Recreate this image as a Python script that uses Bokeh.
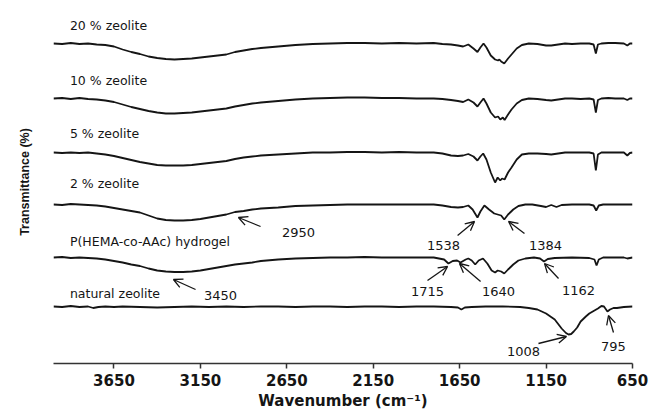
from bokeh.plotting import figure
from bokeh.models import Range1d, FixedTicker, Label, Arrow, OpenHead
from bokeh.embed import file_html
from bokeh.resources import INLINE

# ---------------- data (wavenumber cm-1, transmittance drop from baseline) ----------------
ticks = [3650, 3150, 2650, 2150, 1650, 1150, 650]

zeolite20 = [(4000,0),(3950,0.5),(3900,-0.5),(3850,0.5),(3800,0),(3750,1),(3700,1.5),(3650,3),(3600,6),(3550,8.5),(3500,10.5),(3450,13),(3400,14.5),(3350,15.5),(3300,16),(3250,15.5),(3200,15),(3150,14),(3100,13),(3050,12),(3000,11),(2950,8.5),(2900,7),(2850,5.5),(2800,4.5),(2700,3),(2600,1.5),(2500,0.5),(2400,0),(2300,-0.5),(2200,-0.5),(2100,0),(2000,-0.5),(1900,0),(1800,-0.5),(1750,0.5),(1700,1),(1660,2),(1630,3),(1600,1),(1570,5),(1547,8.5),(1530,4),(1512,0),(1495,4),(1470,12),(1445,16),(1428,17),(1420,16),(1410,18),(1392,20),(1370,15),(1350,11),(1320,5),(1290,1.5),(1250,0),(1200,0.5),(1150,2),(1120,2),(1080,1),(1040,0),(1000,0.5),(950,0),(900,0),(875,1),(862,10),(850,1),(830,0),(790,-0.5),(750,-0.5),(700,0),(680,2),(665,0),(650,0)]

zeolite10 = [(4000,0),(3950,-0.5),(3900,0.5),(3850,-0.5),(3800,0.5),(3750,1),(3700,2),(3650,3.5),(3600,6),(3550,8.5),(3500,10.5),(3450,12.5),(3400,14),(3350,15),(3300,15),(3250,14.5),(3200,14),(3150,13),(3100,12),(3050,11),(3000,10),(2950,8),(2900,6.5),(2850,5),(2800,4),(2700,2.5),(2600,1),(2500,0),(2400,-0.5),(2300,-1),(2200,-1),(2100,-0.5),(2000,-0.5),(1900,0),(1800,0),(1750,0.5),(1700,1.5),(1660,2.5),(1630,3.5),(1600,1),(1570,4),(1547,8),(1530,4),(1512,0),(1495,5),(1470,14),(1445,19),(1428,18),(1415,21),(1400,19),(1390,21.5),(1370,16),(1350,11),(1320,5),(1290,1.5),(1250,0),(1200,0.5),(1150,1.5),(1120,2),(1080,1),(1040,0),(1000,0),(950,0.5),(900,0),(875,1),(862,14),(850,1.5),(830,0),(790,-0.5),(750,0),(700,0),(680,1.5),(665,0),(650,0)]

zeolite5 = [(4000,0),(3950,0.5),(3900,0),(3850,0.5),(3800,0),(3750,1),(3700,2),(3650,3.5),(3600,5.5),(3550,7.5),(3500,9.5),(3450,11),(3400,12.5),(3350,13),(3300,13),(3250,13),(3200,12.5),(3150,11.5),(3100,10.5),(3050,9.5),(3000,8.5),(2950,6.5),(2900,5),(2850,4),(2800,3),(2700,2),(2600,1),(2500,0),(2400,0),(2300,-0.5),(2200,-0.5),(2100,0),(2000,-0.5),(1900,0),(1800,0),(1750,1),(1700,3),(1660,3.5),(1630,3),(1600,1.5),(1570,4),(1547,8),(1530,4),(1514,1),(1495,7),(1470,20),(1445,30),(1430,25),(1415,28),(1405,26),(1390,27),(1370,20),(1350,15),(1320,7),(1290,2),(1250,1),(1200,1),(1150,1.5),(1120,2),(1080,1),(1040,0),(1000,0),(950,0),(900,0),(875,1),(862,18),(850,2),(830,0),(790,0),(750,0),(700,0),(680,3),(665,0.5),(650,0)]

zeolite2 = [(4000,0),(3950,0.5),(3900,-0.5),(3850,0),(3800,0.5),(3750,1),(3700,2),(3650,3.5),(3600,5),(3550,6.5),(3500,8),(3450,11),(3400,14),(3350,15.5),(3300,16),(3250,16),(3200,15.5),(3150,14.5),(3100,13),(3050,11.5),(3000,10),(2950,7.5),(2900,6.5),(2850,5),(2800,4),(2700,3),(2600,1.5),(2500,1),(2400,0.5),(2300,0),(2200,0),(2100,0),(2000,0),(1900,0),(1800,0),(1750,1),(1700,2.5),(1660,3),(1630,2.5),(1600,1),(1575,5),(1547,13),(1530,7),(1507,1),(1480,5),(1450,9),(1430,10),(1410,11),(1392,15),(1370,10),(1340,5),(1310,1.5),(1270,0),(1230,0),(1180,1.5),(1150,2.5),(1120,0.5),(1090,2.5),(1060,0.5),(1000,0),(950,0),(900,0),(875,1),(860,6),(845,1),(820,0),(760,0),(700,0),(650,0)]

hydrogel = [(4000,0),(3950,-0.5),(3900,0.5),(3850,0),(3800,0.5),(3750,1),(3700,2),(3650,3.5),(3600,5),(3550,7),(3500,8.5),(3450,11),(3400,13),(3350,14),(3300,14.5),(3250,14.5),(3200,14),(3150,13),(3100,11.5),(3050,10),(3000,8.5),(2950,7),(2900,6),(2850,5),(2800,3.5),(2700,2),(2600,1),(2500,0.5),(2400,0),(2300,0),(2200,-0.5),(2100,0),(2000,0),(1900,0),(1800,0),(1740,2),(1715,6),(1690,3.5),(1665,3),(1645,5),(1615,2),(1600,1),(1580,3),(1560,7),(1540,3),(1515,1),(1490,6),(1465,13),(1445,15),(1430,13),(1410,14),(1392,16),(1370,12),(1340,7),(1310,3),(1270,1),(1220,0),(1185,1),(1162,4),(1140,1.5),(1100,0.5),(1000,0),(900,0.5),(870,2),(858,8),(845,2),(820,0),(700,0),(680,1),(650,0)]

natural = [(4000,0),(3950,0.5),(3900,-0.5),(3850,0.5),(3800,0),(3770,1.5),(3740,0.5),(3700,0),(3650,0.5),(3600,0),(3500,0.5),(3400,1),(3300,0.5),(3200,0),(3100,0.5),(3000,0),(2900,0.5),(2800,0),(2700,0),(2600,0.5),(2500,0),(2400,0),(2300,0.5),(2200,0),(2100,0),(2000,0.5),(1900,0),(1800,0),(1700,0.5),(1660,1),(1640,3),(1620,1),(1580,0.5),(1500,0),(1400,0),(1300,0.5),(1250,1.5),(1200,3),(1150,7),(1100,13),(1060,22),(1035,26.5),(1020,28),(1005,27.5),(990,25),(970,21),(950,15),(920,10),(900,7),(870,4),(850,2),(830,-0.5),(815,0),(795,5),(780,3),(760,1.5),(740,1.5),(700,0.5),(650,0)]

names = ["20 % zeolite", "10 % zeolite", "5 % zeolite", "2 % zeolite",
         "P(HEMA-co-AAc) hydrogel", "natural zeolite"]
series = [zeolite20, zeolite10, zeolite5, zeolite2, hydrogel, natural]

# ---------------- layout (vertical stacking, in screen px from top) ----------------
baselines = [43, 98, 152, 204, 257, 306]
label_y = [25, 80, 133, 183, 241, 293]

# peak annotations: text, label (wn, y), arrow tail (wn, y), arrow tip (wn, y)
peaks = [
    ("2950", (2582, 232), (2802, 226), (2930, 217)),
    ("3450", (3034, 295), (3178, 289), (3306, 279)),
    ("1538", (1743, 245), (1662, 235), (1564, 221)),
    ("1384", (1153, 245), (1275, 233), (1367, 221)),
    ("1715", (1836, 291), (1836, 280), (1720, 266)),
    ("1640", (1425, 291), (1529, 281), (1651, 263)),
    ("1162", (962, 290), (1078, 278), (1159, 263)),
    ("1008", (1281, 351), (1194, 343), (1032, 336)),
    ("795", (760, 346), (760, 332), (789, 315)),
]

ink = "#151515"

p = figure(width=654, height=412, output_backend="svg", toolbar_location=None,
           x_range=Range1d(4000, 650), y_range=Range1d(363, 0),
           min_border_left=53, min_border_right=22, min_border_top=0, min_border_bottom=49)
p.outline_line_color = None
p.xgrid.visible = False
p.ygrid.visible = False
p.background_fill_color = "white"

for pts, base in zip(series, baselines):
    xs = [w for w, d in pts]
    ys = [base + d for w, d in pts]
    p.line(xs, ys, line_color=ink, line_width=1.8)

for name, ly in zip(names, label_y):
    p.add_layout(Label(x=3905, y=ly, text=name, text_font="DejaVu Sans",
                       text_font_size="12.5px", text_color=ink, text_baseline="middle",
                       text_align="left"))

for txt, lab, tail, tip in peaks:
    p.add_layout(Arrow(end=OpenHead(size=9, line_width=1.3, line_color=ink),
                       x_start=tail[0], y_start=tail[1], x_end=tip[0], y_end=tip[1],
                       line_width=1.3, line_color=ink))
    p.add_layout(Label(x=lab[0], y=lab[1], text=txt, text_font="DejaVu Sans",
                       text_font_size="13px", text_color=ink, text_baseline="middle",
                       text_align="center"))

ax = p.xaxis[0]
ax.ticker = FixedTicker(ticks=ticks)
ax.major_label_overrides = {t: str(t) for t in ticks}
ax.axis_line_color = "#333333"
ax.axis_line_width = 1.5
ax.major_tick_line_color = "#333333"
ax.major_tick_line_width = 1.5
ax.major_tick_in = 0
ax.major_tick_out = 5
ax.minor_tick_line_color = None
ax.major_label_text_font = "DejaVu Sans"
ax.major_label_text_font_style = "bold"
ax.major_label_text_font_size = "15px"
ax.major_label_text_color = ink
ax.major_label_standoff = 5
ax.axis_label = "Wavenumber (cm\u207b\u00b9)"
ax.axis_label_text_font = "DejaVu Sans"
ax.axis_label_text_font_style = "bold"
ax.axis_label_text_font_size = "15px"
ax.axis_label_text_color = ink
ax.axis_label_standoff = 3

ay = p.yaxis[0]
ay.ticker = FixedTicker(ticks=[])
ay.axis_line_color = None
ay.major_tick_line_color = None
ay.minor_tick_line_color = None
ay.major_label_text_font_size = "0px"
ay.axis_label = "Transmittance (%)"
ay.axis_label_text_font = "Liberation Sans"
ay.axis_label_text_font_style = "bold"
ay.axis_label_text_font_size = "12.5px"
ay.axis_label_text_color = ink
ay.axis_label_standoff = 22

open("out.html", "w").write(file_html(p, INLINE))
